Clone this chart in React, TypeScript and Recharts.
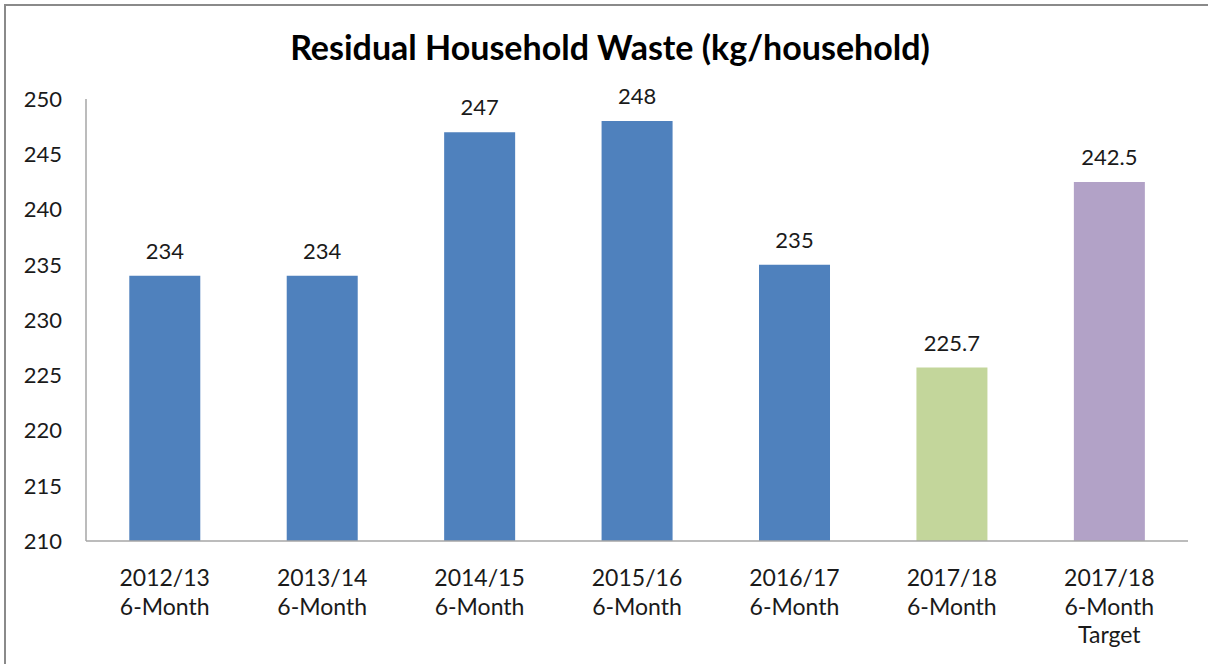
import React from 'react';
import { BarChart, Bar, XAxis, YAxis, Cell, LabelList } from 'recharts';

const periods = ['2012/13', '2013/14', '2014/15', '2015/16', '2016/17', '2017/18', '2017/18'];
const subLabels = ['6-Month', '6-Month', '6-Month', '6-Month', '6-Month', '6-Month', '6-Month\nTarget'];
const wasteValues = [234, 234, 247, 248, 235, 225.7, 242.5];
const barColors = ['#4f81bd', '#4f81bd', '#4f81bd', '#4f81bd', '#4f81bd', '#c3d69b', '#b2a2c7'];
const yTicks = [210, 215, 220, 225, 230, 235, 240, 245, 250];

const data = periods.map((p, i) => ({
  name: p + '\n' + subLabels[i],
  value: wasteValues[i],
}));

const FONT = 'Lato, "Open Sans", sans-serif';

const CategoryTick = (props: any) => {
  const { x, y, payload } = props;
  const lines = String(payload.value).split('\n');
  return (
    <g transform={`translate(${x},${y})`}>
      {lines.map((line, i) => (
        <text key={i} x={0} y={29 + i * 28.5} dy="0.35em" textAnchor="middle" fill="#1a1a1a" fontSize={23} fontFamily={FONT}>
          {line}
        </text>
      ))}
    </g>
  );
};

const App: React.FC = () => {
  return (
    <div style={{ position: 'fixed', left: 0, top: 0, width: 1208, height: 664, background: '#fff', overflow: 'hidden' }}>
      <div style={{ position: 'absolute', left: 4, top: 4, width: 1220, height: 680, border: '2px solid #8a8a8a' }} />
      <div style={{ position: 'absolute', left: 0, top: 25, width: 1220, textAlign: 'center', fontFamily: FONT, fontWeight: 700, fontSize: 34, lineHeight: '44px', color: '#000' }}>
        Residual Household Waste (kg/household)
      </div>
      <div style={{ position: 'absolute', left: 0, top: 0 }}>
        <BarChart width={1208} height={664} data={data} margin={{ top: 99, right: 20, left: 0, bottom: 0 }} barCategoryGap="27.5%">
          <XAxis
            dataKey="name"
            interval={0}
            height={123}
            tickLine={false}
            axisLine={{ stroke: '#a6a6a6', strokeWidth: 1.5 }}
            tick={<CategoryTick />}
          />
          <YAxis
            width={86}
            domain={[210, 250]}
            ticks={yTicks}
            allowDataOverflow
            tickLine={false}
            tickSize={0}
            tickMargin={24}
            axisLine={{ stroke: '#a6a6a6', strokeWidth: 1.5 }}
            tick={{ fill: '#1a1a1a', fontSize: 22, fontFamily: FONT }}
          />
          <Bar dataKey="value" isAnimationActive={false}>
            {data.map((_, i) => (
              <Cell key={i} fill={barColors[i]} />
            ))}
            <LabelList dataKey="value" position="top" offset={17} fill="#1a1a1a" fontSize={22} fontFamily={FONT} />
          </Bar>
        </BarChart>
      </div>
    </div>
  );
};

export default App;
